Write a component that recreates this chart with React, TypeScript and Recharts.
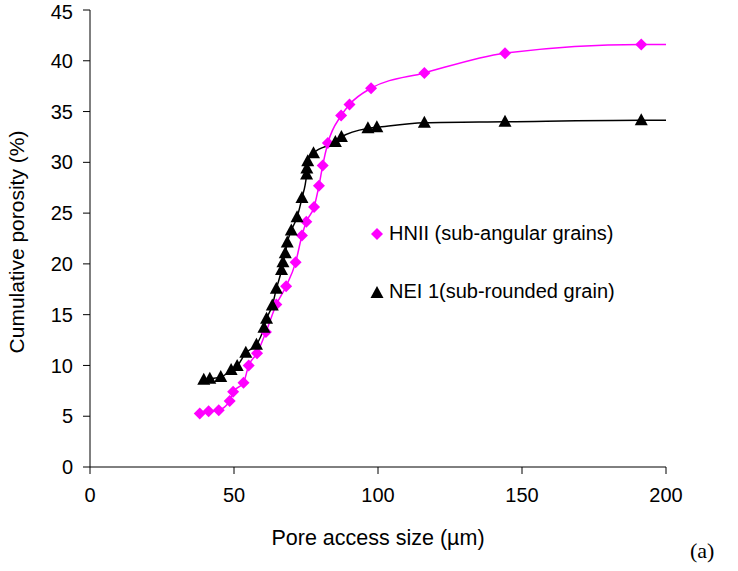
import { LineChart, Line, XAxis, YAxis, Label } from 'recharts';

// HNII (sub-angular grains)
const hniiSize = [38.1, 41.2, 44.7, 48.5, 49.7, 53.3, 55.1, 58.0, 61.1, 64.7, 68.1, 71.4, 73.6, 75.1, 77.8, 79.5, 80.8, 82.6, 87.2, 90.1, 97.6, 116.1, 144.1, 191.4];
const hniiPorosity = [5.26, 5.5, 5.6, 6.5, 7.4, 8.3, 10.0, 11.2, 13.3, 16.0, 17.8, 20.15, 22.8, 24.15, 25.6, 27.7, 29.7, 31.9, 34.6, 35.7, 37.3, 38.8, 40.75, 41.6];

// NEI 1 (sub-rounded grain)
const neiSize = [39.5, 41.6, 45.4, 49.0, 51.1, 54.1, 57.8, 60.4, 61.3, 63.3, 64.7, 66.5, 67.0, 67.8, 68.5, 69.9, 71.9, 73.6, 75.2, 75.3, 75.6, 77.6, 85.2, 87.3, 96.5, 99.6, 116.1, 144.1, 191.4];
const neiPorosity = [8.6, 8.7, 8.85, 9.55, 9.95, 11.25, 12.05, 13.7, 14.6, 15.9, 17.55, 19.4, 20.15, 21.05, 22.1, 23.3, 24.6, 26.5, 28.8, 29.4, 30.1, 30.9, 32.0, 32.5, 33.35, 33.45, 33.9, 34.0, 34.15];

// where the lines reach the right edge of the plot
const lineEndSize = 200;
const hniiEndPorosity = 41.6;
const neiEndPorosity = 34.15;

const xTicks = [0, 50, 100, 150, 200];
const yTicks = [0, 5, 10, 15, 20, 25, 30, 35, 40, 45];

const PINK = '#ff00ff';
const FONT = '"Liberation Sans", Arial, sans-serif';

const hniiData = [
  ...hniiSize.map((x, i) => ({ x, y: hniiPorosity[i], marker: true })),
  { x: lineEndSize, y: hniiEndPorosity, marker: false },
];
const neiData = [
  ...neiSize.map((x, i) => ({ x, y: neiPorosity[i], marker: true })),
  { x: lineEndSize, y: neiEndPorosity, marker: false },
];

const Diamond = (props: any) => {
  const { cx, cy, payload, index } = props;
  if (!payload?.marker) return <g key={index} />;
  const r = 6;
  return (
    <path
      key={index}
      d={`M${cx},${cy - r}L${cx + r},${cy}L${cx},${cy + r}L${cx - r},${cy}Z`}
      fill={PINK}
    />
  );
};

const Triangle = (props: any) => {
  const { cx, cy, payload, index } = props;
  if (!payload?.marker) return <g key={index} />;
  return (
    <path
      key={index}
      d={`M${cx},${cy - 7}L${cx + 6.5},${cy + 5}L${cx - 6.5},${cy + 5}Z`}
      fill="#000"
    />
  );
};

const tickStyle = { fontSize: 20, fill: '#000', fontFamily: FONT };

export default function App() {
  return (
    <div style={{ position: 'absolute', left: 0, top: 0, width: 738, height: 571, background: '#fff' }}>
      <LineChart width={738} height={571} margin={{ top: 10, right: 72, bottom: 74, left: 0 }}>
        <XAxis
          type="number"
          dataKey="x"
          domain={[0, 200]}
          ticks={xTicks}
          allowDataOverflow
          stroke="#000"
          tickSize={7}
          tickMargin={14}
          tick={tickStyle}
        >
          <Label
            value="Pore access size (µm)"
            position="bottom"
            offset={33}
            style={{ fontSize: 21.5, fill: '#000', fontFamily: FONT }}
          />
        </XAxis>
        <YAxis
          type="number"
          dataKey="y"
          domain={[0, 45]}
          ticks={yTicks}
          width={90}
          stroke="#000"
          tickSize={7}
          tickMargin={10}
          tick={tickStyle}
        >
          <Label
            content={() => (
              <text
                x={16}
                y={242}
                transform="rotate(-90 16 242)"
                textAnchor="middle"
                dominantBaseline="central"
                style={{ fontSize: 21, fill: '#000', fontFamily: FONT }}
              >
                Cumulative porosity (%)
              </text>
            )}
          />
        </YAxis>
        <Line
          data={hniiData}
          dataKey="y"
          type="monotone"
          stroke={PINK}
          strokeWidth={1.5}
          dot={Diamond}
          activeDot={false}
          isAnimationActive={false}
        />
        <Line
          data={neiData}
          dataKey="y"
          type="monotone"
          stroke="#000"
          strokeWidth={1.5}
          dot={Triangle}
          activeDot={false}
          isAnimationActive={false}
        />
      </LineChart>

      <div style={{ position: 'absolute', left: 370, top: 222, display: 'flex', alignItems: 'center', fontFamily: FONT, fontSize: 20 }}>
        <svg width={14} height={14} style={{ marginRight: 5 }}>
          <path d="M7,1L13,7L7,13L1,7Z" fill={PINK} />
        </svg>
        <span>HNII (sub-angular grains)</span>
      </div>
      <div style={{ position: 'absolute', left: 370, top: 280, display: 'flex', alignItems: 'center', fontFamily: FONT, fontSize: 20 }}>
        <svg width={14} height={14} style={{ marginRight: 5 }}>
          <path d="M7,1L13.5,13L0.5,13Z" fill="#000" />
        </svg>
        <span>NEI 1(sub-rounded grain)</span>
      </div>
      <div style={{ position: 'absolute', left: 690, top: 538, fontFamily: '"Liberation Serif", "Times New Roman", serif', fontSize: 22 }}>
        (a)
      </div>
    </div>
  );
}
